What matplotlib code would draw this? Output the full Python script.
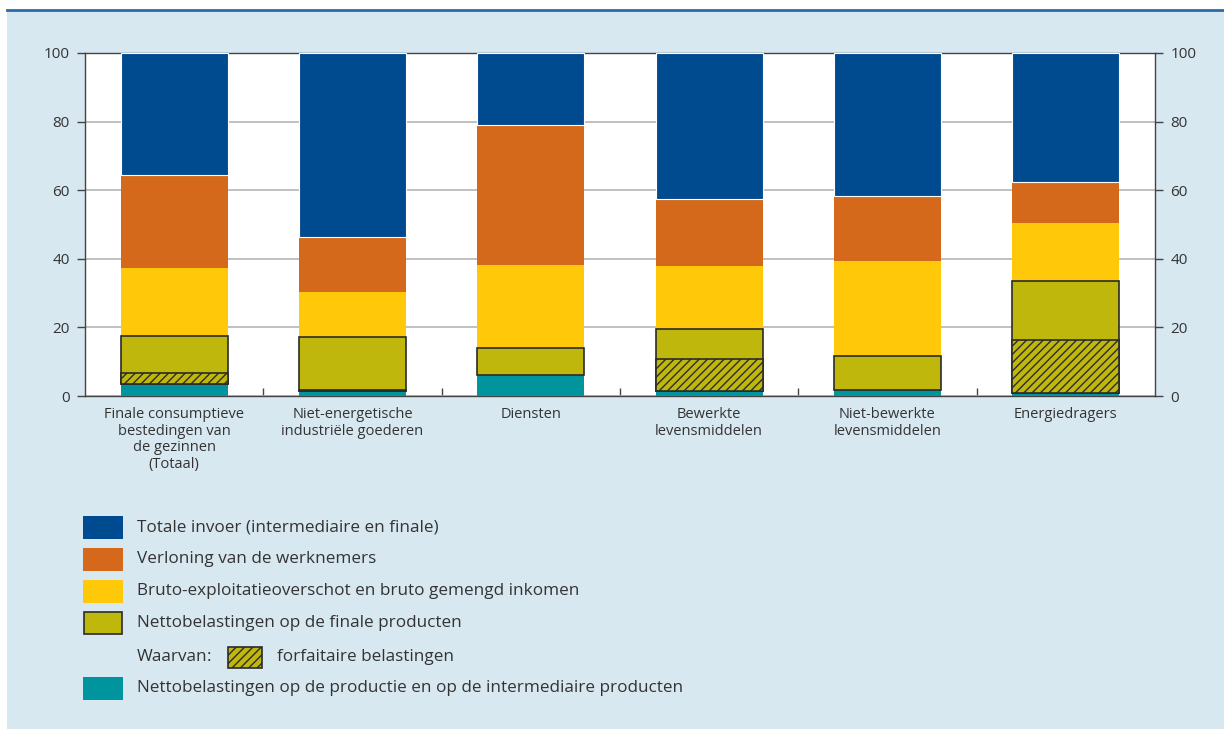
import matplotlib.pyplot as plt
from matplotlib.patches import Rectangle
from matplotlib.lines import Line2D

plt.rcParams['font.family'] = ['Open Sans', 'DejaVu Sans']
plt.rcParams['hatch.linewidth'] = 1.0

# categorieen
categories = ["Finale consumptieve\nbestedingen van\nde gezinnen\n(Totaal)",
              "Niet-energetische\nindustriële goederen",
              "Diensten",
              "Bewerkte\nlevensmiddelen",
              "Niet-bewerkte\nlevensmiddelen",
              "Energiedragers"]

# aandelen in procent (van onder naar boven)
productie_tax = [3.4, 1.5, 6.1, 1.6, 1.7, 0.8]
finale_tax = [14.2, 15.6, 7.8, 17.8, 9.9, 32.6]      # incl. forfaitaire
forfaitair = [3.2, 0.3, 0.0, 9.1, 0.0, 15.4]
bruto_expl = [19.7, 13.2, 24.3, 18.5, 27.8, 17.0]
verloning = [27.1, 16.1, 40.7, 19.4, 18.9, 12.0]
invoer = [35.6, 53.6, 21.1, 42.7, 41.7, 37.6]

labels = ["Totale invoer (intermediaire en finale)",
          "Verloning van de werknemers",
          "Bruto-exploitatieoverschot en bruto gemengd inkomen",
          "Nettobelastingen op de finale producten",
          "forfaitaire belastingen",
          "Nettobelastingen op de productie en op de intermediaire producten"]

c_blue = "#004a8f"
c_orange = "#d4691c"
c_yellow = "#ffc90a"
c_olive = "#bfb70c"
c_teal = "#00959e"
c_bg = "#d8e8f1"
c_edge = "#2b2b2b"
c_text = "#333333"

W, H = 1224, 729
fig = plt.figure(figsize=(W / 100, H / 100), dpi=100)
fig.patch.set_facecolor("white")

# achtergrond kader
fig.add_artist(Rectangle((7 / W, 0), 1 - 7 / W, (H - 10) / H, transform=fig.transFigure,
                         facecolor=c_bg, edgecolor="none", zorder=-10))
fig.add_artist(Line2D([7 / W, 1], [(H - 10) / H] * 2, transform=fig.transFigure,
                      color="#2f6aa8", lw=2))

ax = fig.add_axes([85 / W, (H - 396) / H, 1070 / W, 343 / H])
ax.set_facecolor("white")

x = list(range(len(categories)))
bw = 0.6

bottom = [0.0] * len(x)
ax.bar(x, productie_tax, bw, bottom=bottom, color=c_teal, zorder=3)
bottom = [b + v for b, v in zip(bottom, productie_tax)]
ax.bar(x, finale_tax, bw, bottom=bottom, color=c_olive, edgecolor=c_edge, lw=1.2, zorder=4)
for i in x:
    if forfaitair[i] > 0:
        ax.bar(i, forfaitair[i], bw, bottom=bottom[i], color=c_olive, edgecolor=c_edge,
               hatch="////", lw=1.2, zorder=5)
bottom = [b + v for b, v in zip(bottom, finale_tax)]
ax.bar(x, bruto_expl, bw, bottom=bottom, color=c_yellow, zorder=3)
bottom = [b + v for b, v in zip(bottom, bruto_expl)]
ax.bar(x, verloning, bw, bottom=bottom, color=c_orange, zorder=3)
bottom = [b + v for b, v in zip(bottom, verloning)]
ax.bar(x, invoer, bw, bottom=bottom, color=c_blue, edgecolor="white", lw=0.8, zorder=3)

ax.set_xlim(-0.5, len(x) - 0.5)
ax.set_ylim(0, 100)
ax.set_yticks([0, 20, 40, 60, 80, 100])
ax.yaxis.grid(True, color="#b5b5b5", lw=1.2, zorder=0)
ax.set_axisbelow(True)

ax.set_xticks(x)
ax.set_xticklabels(categories, fontsize=10.5, color=c_text, linespacing=1.15, va="top")
ax.set_xticks([i + 0.5 for i in x[:-1]], minor=True)
ax.tick_params(axis="x", which="major", length=0, pad=8)
ax.tick_params(axis="x", which="minor", direction="in", length=6, width=1, color="#444444")
ax.tick_params(axis="y", direction="out", length=6, width=1, color="#444444",
               labelsize=11, labelcolor=c_text, right=True, labelright=True, pad=5)
for s in ax.spines.values():
    s.set_color("#444444")
    s.set_linewidth(1)

# legende
def box(x0, yc, w, h, **kw):
    fig.add_artist(Rectangle((x0 / W, (H - yc - h / 2) / H), w / W, h / H,
                             transform=fig.transFigure, **kw))

def txt(x0, yc, s):
    fig.text(x0 / W, (H - yc) / H, s, fontsize=12.3, color=c_text, va="center", ha="left")

rows = [527, 559, 591, 623, 657, 688]
box(83, rows[0], 40, 23, facecolor=c_blue, edgecolor="none")
txt(137, rows[0], labels[0])
box(83, rows[1], 40, 23, facecolor=c_orange, edgecolor="none")
txt(137, rows[1], labels[1])
box(83, rows[2], 40, 23, facecolor=c_yellow, edgecolor="none")
txt(137, rows[2], labels[2])
box(84, rows[3], 38, 22, facecolor=c_olive, edgecolor=c_edge, lw=1.2)
txt(137, rows[3], labels[3])
txt(137, rows[4], "Waarvan")
txt(207, rows[4], ":")
box(228, rows[4], 34, 21, facecolor=c_olive, edgecolor=c_edge, lw=1.2, hatch="////")
txt(277, rows[4], labels[4])
box(83, rows[5], 40, 23, facecolor=c_teal, edgecolor="none")
txt(137, rows[5], labels[5])

fig.savefig("out.png", dpi=100, facecolor=fig.get_facecolor())
